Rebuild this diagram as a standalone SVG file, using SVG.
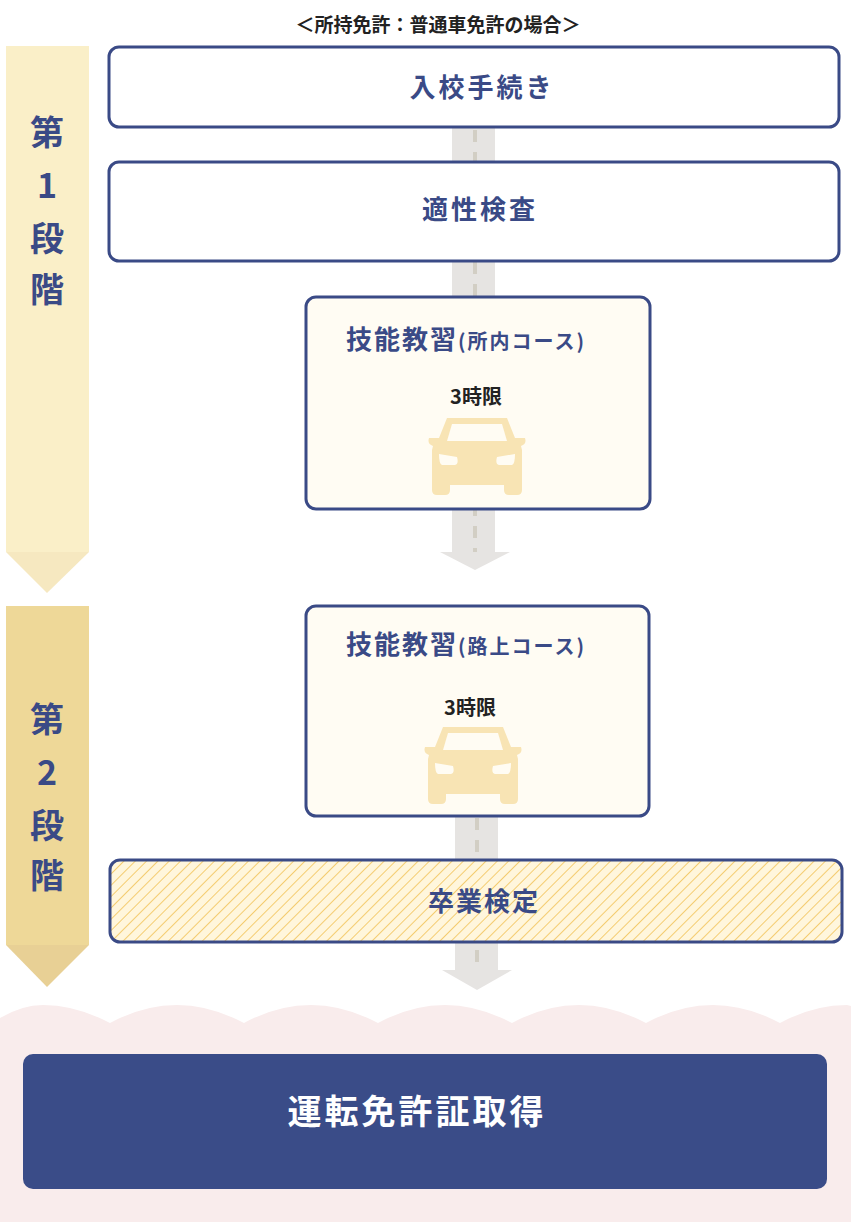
<svg xmlns="http://www.w3.org/2000/svg" width="851" height="1222" viewBox="0 0 851 1222">
<style>
.t{font-family:"Noto Sans CJK JP",sans-serif;font-weight:700;fill:#3a4a86}
.b{fill:#fff;stroke:#3a4a86;stroke-width:3}
.c{fill:#fffcf3;stroke:#3a4a86;stroke-width:3}
.k{font-family:"Noto Sans CJK JP",sans-serif;font-weight:700;fill:#222}
.road{fill:#e6e4e2}
.dash{stroke:#d2cec4;stroke-width:4;stroke-dasharray:12 10}
.car{fill:#f8e4b4}
</style>
<defs>
<pattern id="h" width="8" height="8" patternUnits="userSpaceOnUse" patternTransform="rotate(45)">
<rect width="8" height="8" fill="#fff6dc"/><line x1="0" y1="0" x2="0" y2="8" stroke="#f4cc70" stroke-width="2"/>
</pattern>
<g id="carIcon">
<path class="car" d="M-30,-40 H30 L38,-20 H48 Q50,-14 44,-12 L45,-8 V32 Q45,37 40,37 H32 Q27,37 27,32 V27 H-27 V32 Q-27,37 -32,37 H-40 Q-45,37 -45,32 V-8 L-44,-12 Q-50,-14 -48,-20 H-38 Z"/>
<path fill="#fffcf3" d="M-25,-34 H25 L30,-17 H-30 Z"/>
<path fill="#fffcf3" d="M-38,-4 L-20,-1 Q-18,6 -22,7 H-35 Q-38,6 -38,-4 Z M38,-4 L20,-1 Q18,6 22,7 H35 Q38,6 38,-4 Z"/>
</g>
</defs>
<g id="stages">
<rect x="6" y="46" width="83" height="506" fill="#faefc8"/>
<path d="M6,552 H89 L47,593 Z" fill="#f6e8c0"/>
<text class="t" font-size="34" x="47" y="145" text-anchor="middle">第</text>
<text class="t" font-size="34" x="47" y="198" text-anchor="middle">1</text>
<text class="t" font-size="34" x="47" y="251" text-anchor="middle">段</text>
<text class="t" font-size="34" x="47" y="302" text-anchor="middle">階</text>
<rect x="6" y="606" width="83" height="339" fill="#eed898"/>
<path d="M6,945 H89 L47,987 Z" fill="#e8d095"/>
<text class="t" font-size="34" x="47" y="732" text-anchor="middle">第</text>
<text class="t" font-size="34" x="47" y="785" text-anchor="middle">2</text>
<text class="t" font-size="34" x="47" y="838" text-anchor="middle">段</text>
<text class="t" font-size="34" x="47" y="888" text-anchor="middle">階</text>
</g>
<path id="wave" fill="#f9ecec" d="M0,1018 Q22,1005 43,1005 Q76,1005 110,1023 Q143,1005 177,1005 Q210,1005 244,1023 Q277,1005 311,1005 Q344,1005 378,1023 Q411,1005 445,1005 Q478,1005 512,1023 Q545,1005 579,1005 Q612,1005 646,1023 Q679,1005 713,1005 Q746,1005 780,1023 Q813,1005 847,1005 L851,1006 V1222 H0 Z"/>
<g id="connectors">
<rect class="road" x="452" y="127" width="43" height="425"/>
<path class="road" d="M440,552 H510 L475,570 Z" fill="#e8e6e6"/>
<line class="dash" x1="475" y1="130" x2="475" y2="552"/>
<rect class="road" x="455" y="816" width="43" height="154"/>
<path class="road" d="M442,970 H512 L477,990 Z"/>
<line class="dash" x1="477" y1="818" x2="477" y2="970"/>
</g>
<text class="k" font-size="19" x="438" y="32" text-anchor="middle">＜所持免許：普通車免許の場合＞</text>
<g id="n1"><rect class="b" x="109" y="47" width="730" height="80" rx="10"/>
<text class="t" font-size="26" x="482" y="97" text-anchor="middle" letter-spacing="3">入校手続き</text></g>
<g id="n2"><rect class="b" x="109" y="162" width="730" height="99" rx="10"/>
<text class="t" font-size="26" x="480" y="219" text-anchor="middle" letter-spacing="3">適性検査</text></g>
<g id="n3"><rect class="c" x="306" y="297" width="344" height="212" rx="10"/>
<text class="t" font-size="26" x="346" y="349" letter-spacing="2">技能教習<tspan font-size="20">(所内コース)</tspan></text>
<text class="k" font-size="20" x="476" y="404" text-anchor="middle">3時限</text>
<use href="#carIcon" x="477" y="458"/></g>
<g id="n4"><rect class="c" x="306" y="606" width="343" height="210" rx="10"/>
<text class="t" font-size="26" x="346" y="654" letter-spacing="2">技能教習<tspan font-size="20">(路上コース)</tspan></text>
<text class="k" font-size="20" x="470" y="715" text-anchor="middle">3時限</text>
<use href="#carIcon" x="473" y="767"/></g>
<g id="n5"><rect x="110" y="860" width="732" height="82" rx="10" fill="url(#h)" stroke="#3a4a86" stroke-width="3"/>
<text class="t" font-size="26" x="484" y="911" text-anchor="middle" letter-spacing="2">卒業検定</text></g>
<g id="n6"><rect x="23" y="1054" width="804" height="135" rx="10" fill="#3a4c88"/>
<text font-family="Noto Sans CJK JP,sans-serif" font-weight="700" font-size="34" fill="#fff" x="417" y="1124" text-anchor="middle" letter-spacing="3">運転免許証取得</text></g>
</svg>
